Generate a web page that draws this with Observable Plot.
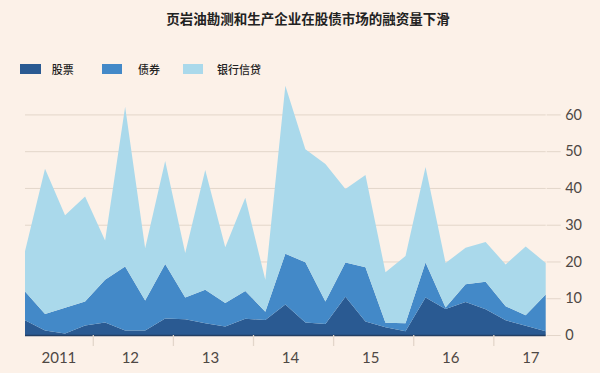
<!DOCTYPE html>
<html><head><meta charset="utf-8">
<script src="https://cdn.jsdelivr.net/npm/d3@7"></script>
<script src="https://cdn.jsdelivr.net/npm/@observablehq/plot@0.6"></script>
<style>
html,body{margin:0;padding:0;background:#fcf1e8;}
#wrap{position:relative;width:600px;height:373px;overflow:hidden;font-family:"Noto Sans CJK SC","Noto Sans",sans-serif;}
#head{position:relative;height:85px;}
#title{position:absolute;left:16px;width:584px;top:8px;text-align:center;font-weight:bold;font-size:13.5px;color:#222;line-height:20px;}
.sw{position:absolute;top:64px;width:20.5px;height:10px;}
.lb{position:absolute;top:61px;font-size:11px;line-height:16px;color:#222;font-weight:500;}
#chart svg{display:block;}
</style></head>
<body><div id="wrap"><div id="head"><div id="title">页岩油勘测和生产企业在股债市场的融资量下滑</div></div><div id="chart"></div></div>
<script>
const quarters = ["2011Q1","2011Q2","2011Q3","2011Q4","2012Q1","2012Q2","2012Q3","2012Q4","2013Q1","2013Q2","2013Q3","2013Q4","2014Q1","2014Q2","2014Q3","2014Q4","2015Q1","2015Q2","2015Q3","2015Q4","2016Q1","2016Q2","2016Q3","2016Q4","2017Q1","2017Q2","2017Q3"];
const seriesNames = ["股票","债券","银行信贷"];
const equity = [4.0,1.2,0.4,2.6,3.4,1.2,1.2,4.5,4.3,3.2,2.3,4.4,4.1,8.3,3.4,3.0,10.4,3.7,2.1,1.0,10.2,7.1,9.0,7.0,4.0,2.5,1.0];
const bonds  = [7.8,4.5,7.0,6.5,11.6,17.4,8.2,14.8,5.9,9.1,6.4,7.6,2.2,13.8,16.4,6.1,9.3,14.7,1.2,2.2,9.5,0.4,4.8,7.5,3.8,2.9,10.0];
const loans  = [11.0,39.5,25.2,28.6,10.7,43.5,14.2,28.0,12.1,32.6,15.2,25.3,8.7,45.7,30.7,37.4,20.0,25.1,13.8,18.3,26.0,12.1,9.9,10.8,11.4,18.7,8.6];
const yTicks = [0,10,20,30,40,50,60];
const yearLabels = ["2011","12","13","14","15","16","17"];
const yearLabelPos = [0.8,4.8,8.8,12.8,16.8,20.8,24.8];
const yearBoundaries = [3.385,7.385,11.385,15.385,19.385,23.385];
const colors = ["#2a5a92","#4389c8","#aad9eb"];
const gridColor = "#e3d6ca";
const textColor = "#4e4844";

// legend
const head = document.getElementById("head");
const swX = [20,101.7,182.7], lbX = [51.7,138,217];
seriesNames.forEach((s,k)=>{
  const sw=document.createElement("div"); sw.className="sw"; sw.style.left=swX[k]+"px"; sw.style.background=colors[k]; head.appendChild(sw);
  const lb=document.createElement("div"); lb.className="lb"; lb.style.left=lbX[k]+"px"; lb.textContent=s; head.appendChild(lb);
});

const values = [equity, bonds, loans];
const rows = [];
seriesNames.forEach((s,k)=>{
  quarters.forEach((q,i)=>rows.push({i, quarter:q, series:s, value:values[k][i]}));
});
const labelRows = yearLabels.map((l,k)=>({pos:yearLabelPos[k], label:l}));

const chart = Plot.plot({
  width: 600,
  height: 288,
  marginTop: 0,
  marginBottom: 38,
  marginLeft: 25,
  marginRight: 54.3,
  style: {background: "transparent", fontFamily: "Lato, 'Noto Sans', sans-serif"},
  x: {type: "linear", domain: [0, quarters.length - 1], label: null},
  y: {domain: [0, 68], label: null},
  color: {domain: seriesNames, range: colors},
  marks: [
    Plot.gridY(yTicks, {stroke: gridColor, strokeOpacity: 1, strokeWidth: 1}),
    Plot.areaY(rows, {x: "i", y: "value", fill: "series", z: "series", order: seriesNames}),
    Plot.ruleY([0], {stroke: "#233f63", strokeWidth: 1.5}),
    Plot.axisY({anchor: "right", ticks: yTicks, tickSize: 14, tickPadding: 5, stroke: gridColor, strokeOpacity: 1, fill: textColor, fontSize: 14.5, label: null}),
    Plot.axisX({ticks: yearBoundaries, tickSize: 11, tickFormat: () => "", stroke: gridColor, strokeOpacity: 1, strokeWidth: 1.3, label: null}),
    Plot.text(labelRows, {x: "pos", text: "label", frameAnchor: "bottom", dy: 27, textAnchor: "start", fill: textColor, fontSize: 15})
  ]
});
document.getElementById("chart").appendChild(chart);
</script>
</body></html>
